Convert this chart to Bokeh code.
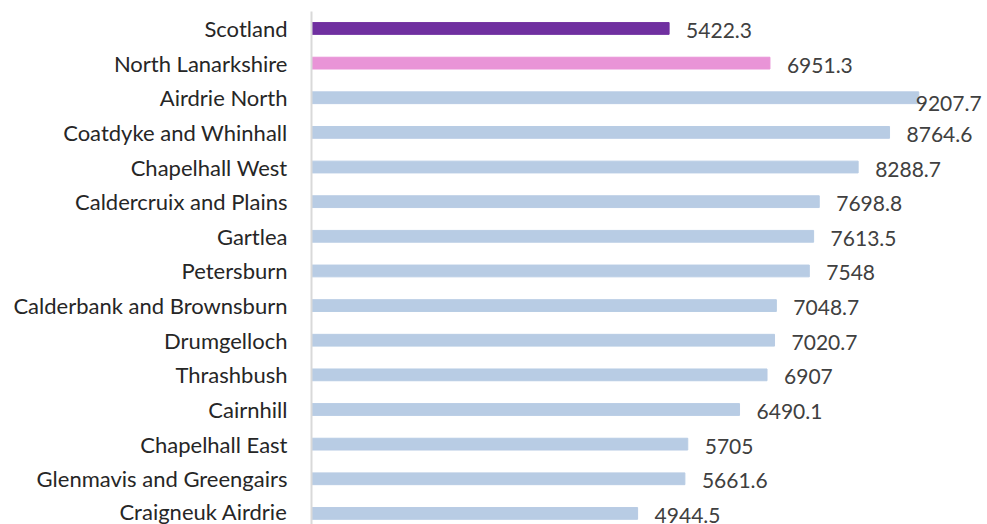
from bokeh.plotting import figure
from bokeh.models import ColumnDataSource, Range1d, FixedTicker, LabelSet
from bokeh.core.properties import value
from bokeh.embed import file_html
from bokeh.resources import INLINE

areas = ["Scotland", "North Lanarkshire", "Airdrie North", "Coatdyke and Whinhall",
         "Chapelhall West", "Caldercruix and Plains", "Gartlea", "Petersburn",
         "Calderbank and Brownsburn", "Drumgelloch", "Thrashbush", "Cairnhill",
         "Chapelhall East", "Glenmavis and Greengairs", "Craigneuk Airdrie"]
values = [5422.3, 6951.3, 9207.7, 8764.6, 8288.7, 7698.8, 7613.5, 7548,
          7048.7, 7020.7, 6907, 6490.1, 5705, 5661.6, 4944.5]
labels = ["5422.3", "6951.3", "9207.7", "8764.6", "8288.7", "7698.8", "7613.5", "7548",
          "7048.7", "7020.7", "6907", "6490.1", "5705", "5661.6", "4944.5"]

FONT = "Lato"
pos = list(range(len(areas)))
colors = ["#7030A0", "#E994D7"] + ["#B8CCE4"] * (len(areas) - 2)
vmax = max(values)
xoff = [(-3 if v == vmax else 17) for v in values]
yoff = [(-6 if v == vmax else -2) for v in values]

src = ColumnDataSource(dict(y=pos, v=values, c=colors, lab=labels, xo=xoff, yo=yoff))

p = figure(width=987, height=524, output_backend="svg", toolbar_location=None,
           x_range=Range1d(0, 10250), y_range=Range1d(14.32, -0.49),
           min_border_left=311, min_border_top=11, min_border_bottom=0, min_border_right=0,
           x_axis_location=None)
p.hbar(y="y", right="v", left=0, height=0.34, color="c", source=src)

p.add_layout(LabelSet(x="v", y="y", text="lab", source=src, x_offset="xo", y_offset="yo",
                      text_font=value(FONT), text_font_size="21px", text_color="#404040",
                      text_baseline="middle", text_align="left"))

ax = p.yaxis[0]
ax.ticker = FixedTicker(ticks=pos)
ax.major_label_overrides = {i: a for i, a in zip(pos, areas)}
ax.major_tick_out = 0
ax.major_tick_in = 0
ax.minor_tick_out = 0
ax.minor_tick_in = 0
ax.major_label_standoff = 24
ax.axis_line_color = "#D9D9D9"
ax.axis_line_width = 2
ax.major_label_text_font = FONT
ax.major_label_text_font_size = "22px"
ax.major_label_text_color = "#262626"

p.grid.visible = False
p.outline_line_color = None

open("out.html", "w").write(file_html(p, INLINE))
